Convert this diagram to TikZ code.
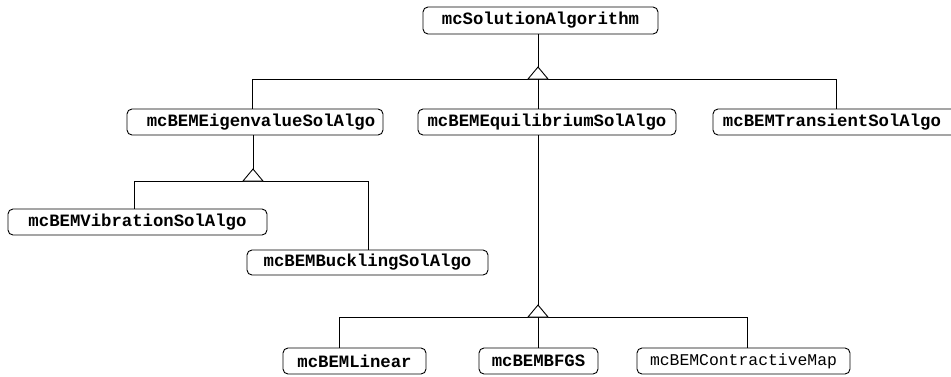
\documentclass[tikz,border=0pt]{standalone}
\usepackage{fontspec}
\newfontfamily\cour{Liberation Mono}
\tikzset{
  box/.style={draw, rounded corners=5pt, line width=0.9pt, inner sep=0pt, align=center,
    font=\cour\bfseries\fontsize{17.3}{20}\selectfont},
  plainbox/.style={box, font=\cour\fontsize{16.4}{20}\selectfont},
  conn/.style={line width=0.9pt},
}
\begin{document}
\begin{tikzpicture}[x=1pt,y=-1pt]
\useasboundingbox (0,0) rectangle (951,376);
\clip (0,0) rectangle (951,376);
\node[box, minimum width=235pt, minimum height=27pt] (top) at (540.5,20.5) {mcSolutionAlgorithm};
\node[box, minimum width=256pt, minimum height=26pt] (eig) at (255,122) {\hspace{12pt}mcBEMEigenvalueSolAlgo};
\node[box, minimum width=258pt, minimum height=26pt] (equ) at (547,122) {mcBEMEquilibriumSolAlgo};
\node[box, minimum width=246pt, minimum height=26pt] (tra) at (836,122) {\hspace{-8pt}mcBEMTransientSolAlgo};
\node[box, minimum width=259pt, minimum height=26pt] (vib) at (137.5,222) {mcBEMVibrationSolAlgo};
\node[box, minimum width=241pt, minimum height=25pt] (buc) at (367.5,262.5) {mcBEMBucklingSolAlgo};
\node[box, minimum width=143pt, minimum height=26pt] (lin) at (354.5,361) {mcBEMLinear};
\node[box, minimum width=119pt, minimum height=26pt] (bfgs) at (538.5,361) {mcBEMBFGS};
\node[plainbox, minimum width=213pt, minimum height=26pt] (con) at (743.5,361) {mcBEMContractiveMap};
% top level
\coordinate (tA) at (538,67);
\coordinate (tL) at (252,79);
\coordinate (tR) at (836,79);
\draw[conn] (top.south -| tA) -- (tA);
\draw[conn] (tL) -- (tR);
\draw[conn, fill=white] (tA) -- ++(-10,12) -- ++(20,0) -- cycle;
\draw[conn] (tL) -- (tL |- eig.north);
\draw[conn] (tR) -- (tR |- tra.north);
\draw[conn] (tA |- tL) -- (tA |- equ.north);
% eigen level
\coordinate (eA) at (253,169);
\coordinate (eL) at (134,181);
\coordinate (eR) at (368,181);
\draw[conn] (eig.south -| eA) -- (eA);
\draw[conn] (eL) -- (eR);
\draw[conn, fill=white] (eA) -- ++(-10,12) -- ++(20,0) -- cycle;
\draw[conn] (eL) -- (eL |- vib.north);
\draw[conn] (eR) -- (eR |- buc.north);
% equilibrium level
\coordinate (qA) at (538,305);
\coordinate (qL) at (339,317);
\coordinate (qR) at (747,317);
\draw[conn] (equ.south -| qA) -- (qA);
\draw[conn] (qL) -- (qR);
\draw[conn, fill=white] (qA) -- ++(-10,12) -- ++(20,0) -- cycle;
\draw[conn] (qL) -- (qL |- lin.north);
\draw[conn] (qR) -- (qR |- con.north);
\draw[conn] (qA |- qL) -- (qA |- bfgs.north);
\end{tikzpicture}
\end{document}
